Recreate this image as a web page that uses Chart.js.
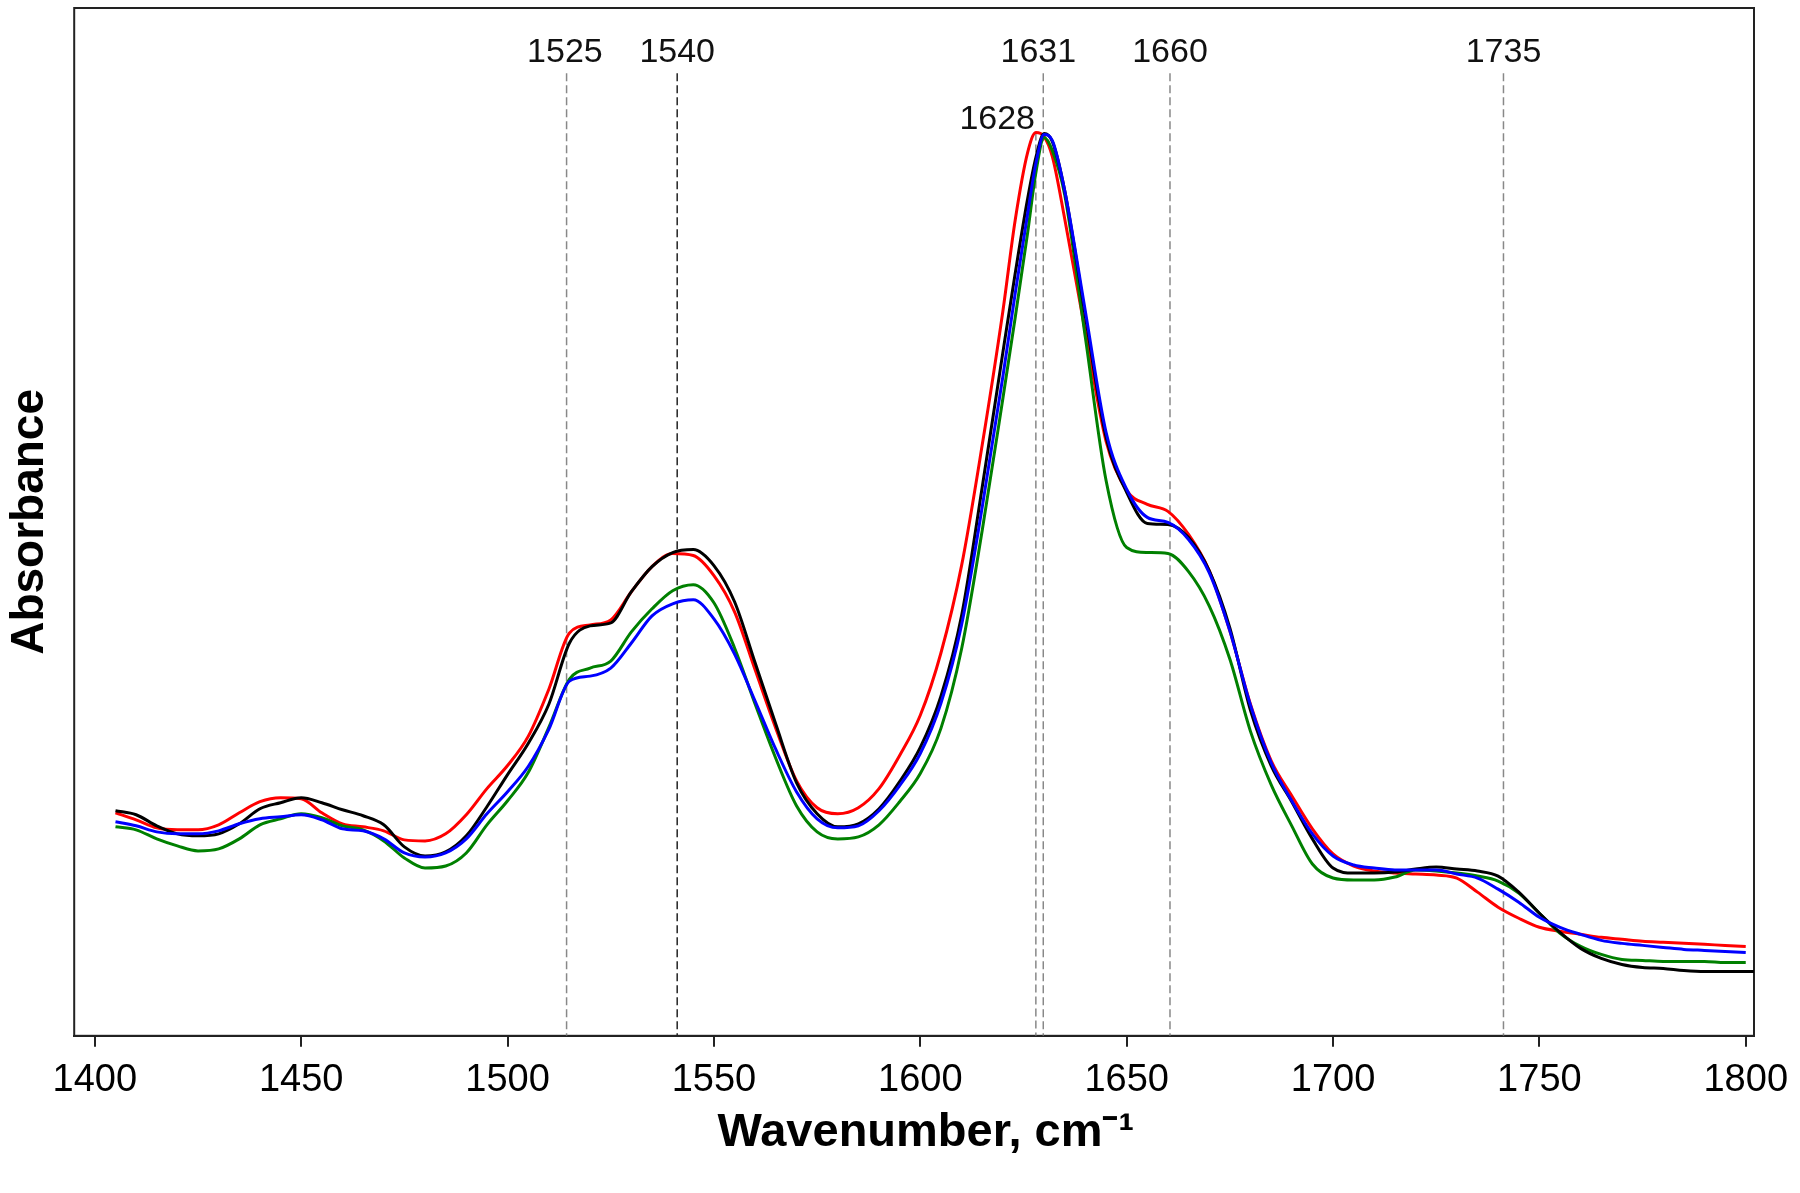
<!DOCTYPE html>
<html>
<head>
<meta charset="utf-8">
<script src="https://cdn.jsdelivr.net/npm/chart.js@4.4.0/dist/chart.umd.min.js"></script>
<style>
  html, body { margin: 0; padding: 0; background: #fff; }
  #wrap { width: 1800px; height: 1193px; position: relative; }
</style>
</head>
<body>
<div id="wrap"><canvas id="spettro"></canvas></div>
<script>
// wavenumber grid (cm-1)
var wn = [1405, 1410, 1415, 1420, 1425, 1430, 1435, 1440, 1445, 1450, 1455, 1460, 1465, 1470, 1475, 1480,
    1485, 1490, 1495, 1500, 1505, 1510, 1515, 1520, 1525, 1530, 1535, 1540, 1545, 1550, 1555, 1560,
    1565, 1570, 1575, 1580, 1585, 1590, 1595, 1600, 1605, 1610, 1615, 1620, 1623, 1626, 1628, 1630,
    1632, 1635, 1640, 1645, 1650, 1655, 1660, 1665, 1670, 1675, 1680, 1685, 1690, 1695, 1700, 1705,
    1710, 1715, 1720, 1725, 1730, 1735, 1740, 1745, 1750, 1755, 1760, 1765, 1770, 1775, 1780, 1785,
    1790, 1795, 1800, 1802];

var rosso = [0.222, 0.215, 0.207, 0.205, 0.205, 0.210, 0.222, 0.233, 0.237, 0.236, 0.222, 0.211, 0.208, 0.204, 0.195, 0.194,
    0.201, 0.220, 0.246, 0.269, 0.298, 0.345, 0.401, 0.409, 0.414, 0.442, 0.467, 0.480, 0.478, 0.458, 0.422, 0.364,
    0.306, 0.254, 0.227, 0.221, 0.227, 0.246, 0.279, 0.319, 0.381, 0.468, 0.588, 0.721, 0.812, 0.879, 0.899, 0.895,
    0.875, 0.813, 0.700, 0.592, 0.543, 0.529, 0.522, 0.499, 0.463, 0.403, 0.330, 0.274, 0.239, 0.206, 0.181, 0.169,
    0.164, 0.162, 0.161, 0.160, 0.157, 0.143, 0.128, 0.117, 0.108, 0.104, 0.101, 0.098, 0.096, 0.094, 0.093, 0.092,
    0.091, 0.090, 0.089, null];

var nero = [0.224, 0.220, 0.209, 0.201, 0.199, 0.201, 0.211, 0.226, 0.232, 0.237, 0.232, 0.225, 0.219, 0.210, 0.188, 0.179,
    0.183, 0.199, 0.228, 0.260, 0.291, 0.330, 0.391, 0.408, 0.411, 0.442, 0.467, 0.481, 0.484, 0.468, 0.432, 0.371,
    0.310, 0.252, 0.221, 0.208, 0.211, 0.226, 0.253, 0.287, 0.338, 0.418, 0.546, 0.680, 0.759, 0.833, 0.874, 0.898,
    0.890, 0.841, 0.716, 0.596, 0.541, 0.510, 0.509, 0.496, 0.463, 0.406, 0.324, 0.269, 0.233, 0.196, 0.167, 0.162,
    0.162, 0.163, 0.166, 0.168, 0.166, 0.164, 0.159, 0.143, 0.122, 0.103, 0.087, 0.077, 0.071, 0.068, 0.067, 0.065,
    0.064, 0.064, 0.064, 0.064];

var blu = [0.213, 0.209, 0.203, 0.201, 0.201, 0.204, 0.211, 0.216, 0.218, 0.220, 0.215, 0.206, 0.204, 0.196, 0.182, 0.178,
    0.182, 0.196, 0.221, 0.243, 0.268, 0.305, 0.353, 0.358, 0.366, 0.391, 0.418, 0.430, 0.434, 0.415, 0.380, 0.333,
    0.285, 0.243, 0.216, 0.207, 0.209, 0.224, 0.249, 0.281, 0.331, 0.409, 0.526, 0.656, 0.739, 0.818, 0.868, 0.897,
    0.891, 0.841, 0.721, 0.601, 0.544, 0.516, 0.511, 0.494, 0.461, 0.403, 0.329, 0.272, 0.234, 0.201, 0.179, 0.170,
    0.167, 0.165, 0.165, 0.165, 0.161, 0.157, 0.146, 0.133, 0.118, 0.108, 0.101, 0.095, 0.092, 0.090, 0.088, 0.086,
    0.085, 0.084, 0.083, null];

var verde = [0.208, 0.205, 0.196, 0.189, 0.184, 0.186, 0.196, 0.210, 0.216, 0.221, 0.217, 0.209, 0.205, 0.194, 0.177, 0.167,
    0.169, 0.182, 0.210, 0.234, 0.262, 0.307, 0.355, 0.366, 0.373, 0.402, 0.425, 0.443, 0.449, 0.431, 0.386, 0.330,
    0.276, 0.229, 0.203, 0.196, 0.198, 0.210, 0.233, 0.261, 0.306, 0.385, 0.503, 0.634, 0.715, 0.799, 0.859, 0.894,
    0.881, 0.837, 0.695, 0.553, 0.486, 0.481, 0.480, 0.462, 0.428, 0.375, 0.303, 0.250, 0.209, 0.171, 0.157, 0.155,
    0.155, 0.158, 0.165, 0.164, 0.162, 0.159, 0.154, 0.142, 0.122, 0.102, 0.089, 0.081, 0.076, 0.075, 0.074, 0.074,
    0.074, 0.073, 0.073, null];

var xTicks = [1400, 1450, 1500, 1550, 1600, 1650, 1700, 1750, 1800];

// dashed marker lines: where they are drawn and how high they start
var lineeWn = [1514.3, 1541.1, 1628.0, 1629.8, 1660.5, 1741.3];
var lineeTop = [0.958, 0.958, 0.899, 0.958, 0.958, 0.958];
var lineeColore = ['#888888', '#222222', '#888888', '#888888', '#888888', '#888888'];

// band labels
var etichette = ['1525', '1540', '1631', '1660', '1735', '1628'];
var etichetteWn = [1513.9, 1541.1, 1628.6, 1660.5, 1741.3, 1627.8];
var etichetteY = [0.979, 0.979, 0.979, 0.979, 0.979, 0.912];

var FONT = "'Liberation Sans', Arial, Helvetica, sans-serif";

function serie(vals) {
    var out = [];
    for (var i = 0; i < wn.length; i++) {
        out.push({ x: wn[i], y: vals[i] });
    }
    return out;
}

var datasets = [
    { data: serie(blu), borderColor: '#0000ff' },
    { data: serie(nero), borderColor: '#000000' },
    { data: serie(verde), borderColor: '#008000' },
    { data: serie(rosso), borderColor: '#ff0000' }
];
datasets.forEach(function (d) {
    d.borderWidth = 3;
    d.pointRadius = 0;
    d.tension = 0.4;
    d.cubicInterpolationMode = 'monotone';
    d.fill = false;
});

for (var i = 0; i < lineeWn.length; i++) {
    datasets.push({
        data: [{ x: lineeWn[i], y: lineeTop[i] }, { x: lineeWn[i], y: 0 }],
        borderColor: lineeColore[i],
        borderWidth: 1.5,
        borderDash: [8, 4],
        pointRadius: 0,
        tension: 0,
        fill: false
    });
}

var cornice = {
    id: 'cornice',
    beforeDatasetsDraw: function (chart) {
        var a = chart.chartArea;
        var ctx = chart.ctx;
        ctx.save();
        ctx.strokeStyle = '#222';
        ctx.lineWidth = 2;
        ctx.strokeRect(a.left, a.top, a.right - a.left, a.bottom - a.top);
        ctx.restore();
    },
    afterDatasetsDraw: function (chart) {
        var sx = chart.scales.x;
        var sy = chart.scales.y;
        var ctx = chart.ctx;
        ctx.save();
        ctx.font = '34px ' + FONT;
        ctx.fillStyle = '#111';
        ctx.textBaseline = 'middle';
        for (var k = 0; k < etichette.length; k++) {
            ctx.textAlign = etichette[k] === '1628' ? 'right' : 'center';
            ctx.fillText(etichette[k], sx.getPixelForValue(etichetteWn[k]), sy.getPixelForValue(etichetteY[k]));
        }
        ctx.restore();
    }
};

new Chart(document.getElementById('spettro'), {
    type: 'line',
    data: { datasets: datasets },
    plugins: [cornice],
    options: {
        responsive: true,
        maintainAspectRatio: false,
        devicePixelRatio: 1,
        animation: false,
        layout: { padding: { top: 8, right: 46, bottom: 0, left: 0 } },
        plugins: {
            legend: { display: false },
            tooltip: { enabled: false }
        },
        scales: {
            x: {
                type: 'linear',
                min: 1395,
                max: 1802,
                afterBuildTicks: function (axis) {
                    axis.ticks = xTicks.map(function (v) { return { value: v }; });
                },
                grid: {
                    display: true,
                    drawOnChartArea: false,
                    drawTicks: true,
                    tickLength: 11,
                    color: '#222',
                    lineWidth: 2
                },
                border: { display: true, color: '#222', width: 2 },
                ticks: {
                    color: '#000',
                    padding: 11,
                    maxRotation: 0,
                    font: { family: FONT, size: 38 },
                    callback: function (v) { return String(v); }
                },
                title: {
                    display: true,
                    text: '\u2002Wavenumber, cm⁻¹',
                    color: '#000',
                    font: { family: FONT, size: 47, weight: 'bold', lineHeight: 0.8 },
                    padding: { top: 0, bottom: 41 }
                }
            },
            y: {
                type: 'linear',
                min: 0,
                max: 1.023,
                grid: { display: false, drawTicks: false },
                border: { display: false },
                ticks: { display: false },
                title: {
                    display: true,
                    text: 'Absorbance',
                    color: '#000',
                    font: { family: FONT, size: 46, weight: 'bold' },
                    padding: { top: 3, bottom: 16 }
                }
            }
        }
    }
});
</script>
</body>
</html>
